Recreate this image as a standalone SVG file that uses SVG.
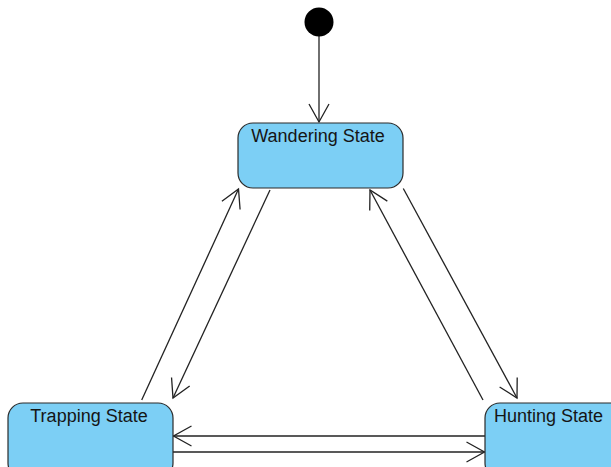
<svg xmlns="http://www.w3.org/2000/svg" width="611" height="467" viewBox="0 0 611 467">
<style>
.state{fill:#7ccff5;stroke:#2b2b2b;stroke-width:1.2}
.lbl{font-family:"Liberation Sans",Arial,sans-serif;font-size:18px;fill:#151515}
.conn{stroke:#222;stroke-width:1.3;fill:none}
</style>
<defs>
<marker id="open" viewBox="-20 -11 22 22" markerWidth="22" markerHeight="22" refX="0" refY="0" orient="auto" markerUnits="userSpaceOnUse">
<path d="M-18,-10 L0,0 L-18,10" fill="none" stroke="#222" stroke-width="1.3"/>
</marker>
</defs>
<rect width="611" height="467" fill="#ffffff"/>
<g id="connectors">
<line class="conn" x1="319" y1="36" x2="319" y2="122" marker-end="url(#open)"/>
<line class="conn" x1="141.7" y1="400" x2="238.5" y2="189" marker-end="url(#open)"/>
<line class="conn" x1="270" y1="190" x2="173" y2="398" marker-end="url(#open)"/>
<line class="conn" x1="403.3" y1="188.5" x2="517" y2="398" marker-end="url(#open)"/>
<line class="conn" x1="483" y1="400" x2="370" y2="190" marker-end="url(#open)"/>
<line class="conn" x1="485" y1="436" x2="173.5" y2="436" marker-end="url(#open)"/>
<line class="conn" x1="173" y1="452" x2="484.5" y2="452" marker-end="url(#open)"/>
</g>
<g id="initial">
<circle cx="319" cy="22" r="14.5" fill="#000"/>
</g>
<g id="wandering">
<rect class="state" x="238" y="123" width="165" height="65" rx="15" ry="15"/>
<text class="lbl" x="318" y="142" text-anchor="middle">Wandering State</text>
</g>
<g id="trapping">
<rect class="state" x="8" y="403" width="165" height="75" rx="15" ry="15"/>
<text class="lbl" x="89" y="422" text-anchor="middle">Trapping State</text>
</g>
<g id="hunting">
<rect class="state" x="485" y="403" width="165" height="75" rx="15" ry="15"/>
<text class="lbl" x="494" y="422">Hunting State</text>
</g>
</svg>
